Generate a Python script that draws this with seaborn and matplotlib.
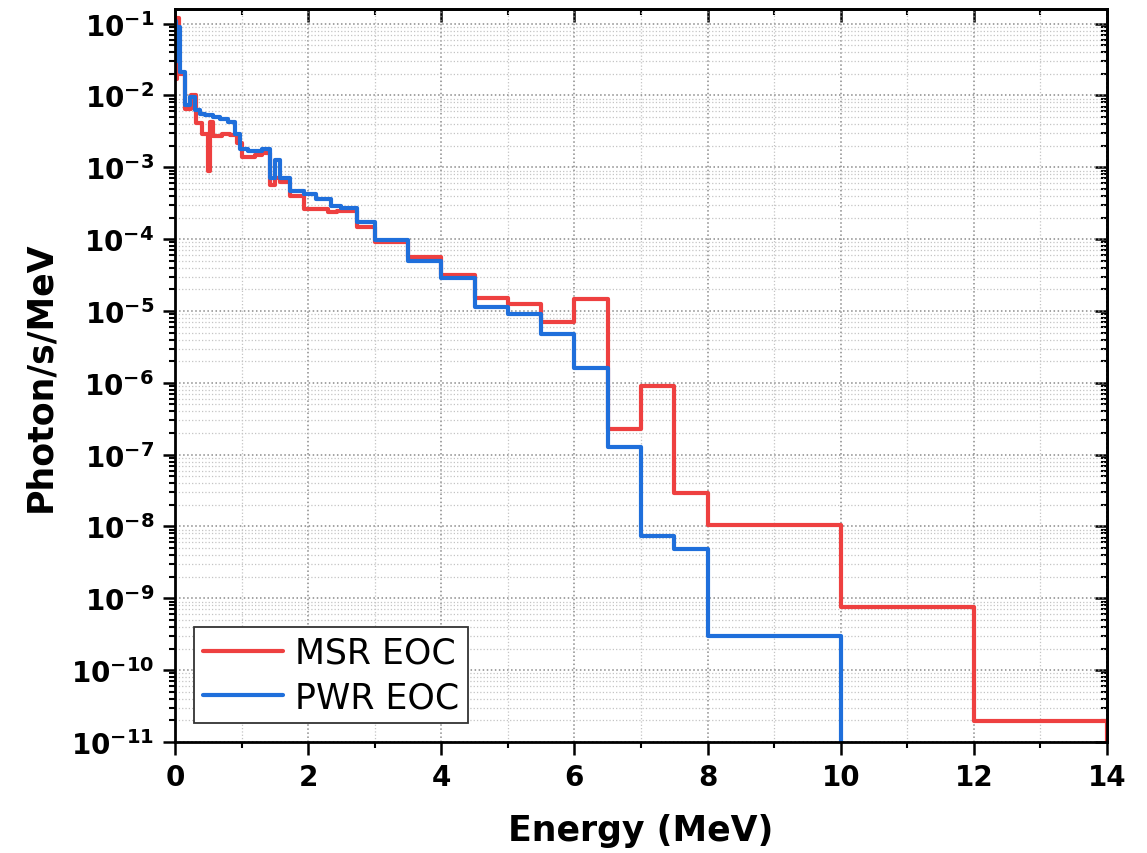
import numpy as np
import pandas as pd
import matplotlib
matplotlib.use("Agg")
import matplotlib.pyplot as plt
from matplotlib.ticker import LogLocator, MultipleLocator, NullFormatter
import seaborn as sns

# Gamma source spectra at end of cycle: left bin edge (MeV) and bin value (photon/s/MeV).
# The final entry closes the last bin (flux is zero above it).
msr_energy = [0.00, 0.03, 0.06, 0.15, 0.24, 0.31, 0.40, 0.50, 0.52, 0.57,
              0.70, 0.83, 0.93, 1.00, 1.20, 1.30, 1.43, 1.50, 1.58, 1.73,
              1.93, 2.30, 2.43, 2.73, 3.00, 3.50, 4.00, 4.50, 5.00, 5.50,
              6.00, 6.50, 7.00, 7.50, 8.00, 10.0, 12.0, 14.0]
msr_flux = [1.7e-2, 1.2e-1, 2.0e-2, 6.5e-3, 1.0e-2, 4.2e-3, 2.9e-3, 9.0e-4, 4.3e-3, 2.7e-3,
            2.9e-3, 2.8e-3, 2.2e-3, 1.4e-3, 1.5e-3, 1.6e-3, 5.6e-4, 7.0e-4, 6.2e-4, 4.0e-4,
            2.65e-4, 2.4e-4, 2.5e-4, 1.48e-4, 9.2e-5, 5.7e-5, 3.2e-5, 1.53e-5, 1.26e-5, 7.1e-6,
            1.48e-5, 2.3e-7, 9.1e-7, 2.96e-8, 1.05e-8, 7.6e-10, 1.95e-11, 0.0]

pwr_energy = [0.00, 0.02, 0.04, 0.07, 0.15, 0.225, 0.30, 0.375, 0.45, 0.575,
              0.675, 0.80, 0.90, 0.975, 1.10, 1.20, 1.30, 1.43, 1.50, 1.58,
              1.73, 1.93, 2.125, 2.35, 2.50, 2.73, 3.00, 3.50, 4.00, 4.50,
              5.00, 5.50, 6.00, 6.50, 7.00, 7.50, 8.00, 10.0]
pwr_flux = [1.1e-1, 3.0e-2, 9.0e-2, 2.1e-2, 7.3e-3, 9.5e-3, 6.2e-3, 5.6e-3, 5.3e-3, 5.0e-3,
            4.7e-3, 4.3e-3, 2.9e-3, 1.8e-3, 1.7e-3, 1.7e-3, 1.8e-3, 7.1e-4, 1.25e-3, 7.1e-4,
            4.7e-4, 4.2e-4, 3.6e-4, 2.85e-4, 2.72e-4, 1.72e-4, 9.85e-5, 5.0e-5, 2.9e-5, 1.15e-5,
            9.1e-6, 4.8e-6, 1.62e-6, 1.29e-7, 7.4e-9, 4.9e-9, 3.0e-10, 0.0]

series_names = ["MSR EOC", "PWR EOC"]
series_colors = ["#EE4040", "#1F6FDB"]

df = pd.concat([
    pd.DataFrame({"Energy": msr_energy, "Flux": msr_flux, "Spectrum": series_names[0]}),
    pd.DataFrame({"Energy": pwr_energy, "Flux": pwr_flux, "Spectrum": series_names[1]}),
], ignore_index=True)

sns.set_theme(style="ticks")
plt.rcParams["font.family"] = ["DejaVu Sans"]
plt.rcParams["mathtext.fontset"] = "dejavusans"
plt.rcParams["mathtext.default"] = "bf"
plt.rcParams["text.color"] = "black"
plt.rcParams["axes.labelcolor"] = "black"
plt.rcParams["xtick.color"] = "black"
plt.rcParams["ytick.color"] = "black"

fig = plt.figure(figsize=(11.47, 8.54), dpi=100)
ax = fig.add_axes([0.1526, 0.13, 0.9651 - 0.1526, 0.9883 - 0.13])

sns.lineplot(data=df, x="Energy", y="Flux", hue="Spectrum", hue_order=series_names,
             palette=dict(zip(series_names, series_colors)), estimator=None,
             sort=False, drawstyle="steps-post", linewidth=3.0, legend=False, ax=ax)

ax.set_yscale("log")
ax.set_xlim(0, 14)
ax.set_ylim(1e-11, 0.16)

ax.xaxis.set_major_locator(MultipleLocator(2))
ax.xaxis.set_minor_locator(MultipleLocator(1))
ax.yaxis.set_major_locator(LogLocator(base=10, numticks=30))
ax.yaxis.set_minor_locator(LogLocator(base=10, subs=np.arange(2, 10), numticks=200))
ax.yaxis.set_minor_formatter(NullFormatter())

ax.set_axisbelow(True)
ax.grid(which="major", linestyle=":", color="#8a8a8a", linewidth=1.1)
ax.grid(which="minor", linestyle=":", color="#c4c4c4", linewidth=0.9)

for s in ax.spines.values():
    s.set_color("black")
    s.set_linewidth(2.0)

ax.tick_params(which="both", bottom=True, left=True, top=False, right=False)
ax.tick_params(which="major", direction="out", length=9, width=1.8, pad=6,
               labelsize=20, color="black", labelcolor="black")
ax.tick_params(which="minor", direction="out", length=4.5, width=1.5, color="black")
for lab in ax.get_xticklabels() + ax.get_yticklabels():
    lab.set_fontweight("bold")

# inward ticks on the top and right edges
secx = ax.secondary_xaxis("top")
secx.xaxis.set_major_locator(MultipleLocator(2))
secx.xaxis.set_minor_locator(MultipleLocator(1))
secx.tick_params(which="major", direction="in", length=9, width=1.8, color="black",
                 labeltop=False)
secx.tick_params(which="minor", direction="in", length=4.5, width=1.5, color="black")
secx.spines["top"].set_linewidth(2.0)
secx.spines["top"].set_color("black")

secy = ax.secondary_yaxis("right")
secy.yaxis.set_major_locator(LogLocator(base=10, numticks=30))
secy.yaxis.set_minor_locator(LogLocator(base=10, subs=np.arange(2, 10), numticks=200))
secy.tick_params(which="major", direction="in", length=9, width=1.8, color="black",
                 labelright=False)
secy.tick_params(which="minor", direction="in", length=4.5, width=1.5, color="black",
                 labelright=False)
secy.spines["right"].set_linewidth(2.0)
secy.spines["right"].set_color("black")

ax.set_xlabel("Energy (MeV)", fontsize=25, fontweight="bold", labelpad=16, color="black")
ax.set_ylabel("Photon/s/MeV", fontsize=25, fontweight="bold", labelpad=10, color="black")

leg = ax.legend(handles=ax.lines[:2], labels=series_names, loc="lower left",
                fontsize=25, frameon=True, fancybox=False, framealpha=1.0,
                edgecolor="#333333", handlelength=2.3, handletextpad=0.35,
                labelspacing=0.3, borderpad=0.25, borderaxespad=0.55)
leg.get_frame().set_linewidth(1.3)
for t in leg.get_texts():
    t.set_color("black")

fig.savefig("out.png", dpi=100)
